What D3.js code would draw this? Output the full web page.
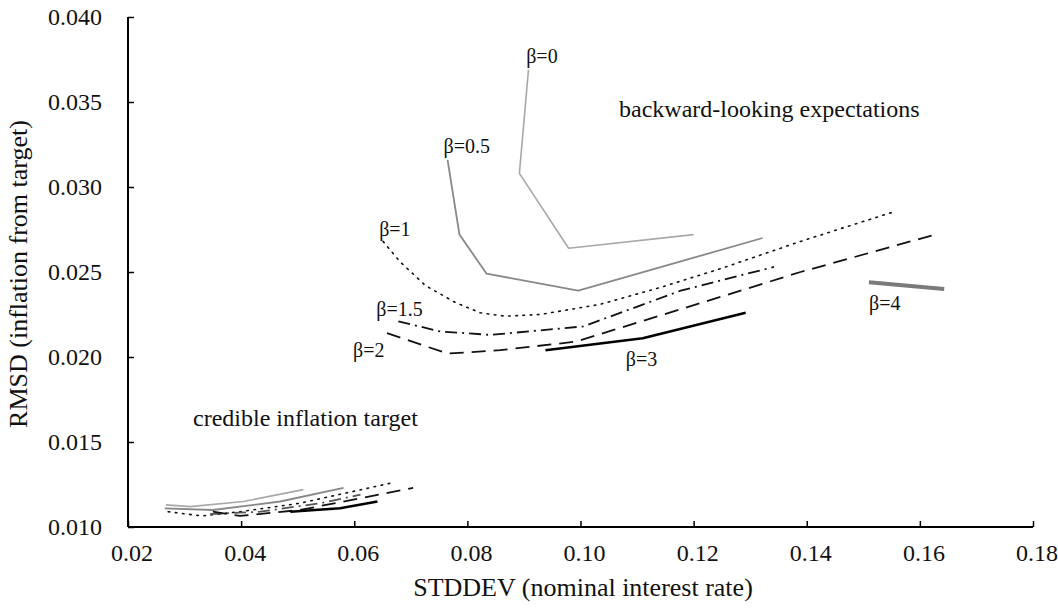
<!DOCTYPE html>
<html>
<head>
<meta charset="utf-8">
<script src="https://cdn.jsdelivr.net/npm/d3@7/dist/d3.min.js"></script>
<style>
  html, body { margin: 0; padding: 0; background: #fff; }
  svg { display: block; }
  text { font-family: "Liberation Serif", "Times New Roman", serif; fill: #111; }
</style>
</head>
<body>
<svg id="chart" width="1058" height="609"></svg>
<script>
// Axis ticks
const xTicks = [0.02, 0.04, 0.06, 0.08, 0.10, 0.12, 0.14, 0.16, 0.18];
const yTicks = [0.010, 0.015, 0.020, 0.025, 0.030, 0.035, 0.040];

// Policy frontiers [STDDEV interest rate, RMSD inflation] — backward-looking expectations
const backBeta0   = [[0.0908, 0.0369], [0.0892, 0.0308], [0.0979, 0.0264], [0.1200, 0.0272]];
const backBeta05  = [[0.0765, 0.0316], [0.0786, 0.0272], [0.0834, 0.0249], [0.0996, 0.0239], [0.1322, 0.0270]];
const backBeta1   = [[0.0651, 0.0268], [0.0681, 0.0256], [0.0726, 0.0242], [0.0779, 0.0232], [0.0823, 0.0226],
                     [0.0867, 0.0224], [0.0929, 0.0225], [0.1035, 0.0231], [0.1142, 0.0241], [0.1248, 0.0252],
                     [0.1389, 0.0268], [0.1550, 0.0285]];
const backBeta15  = [[0.0678, 0.0221], [0.0752, 0.0215], [0.0841, 0.0213], [0.1005, 0.0218], [0.1177, 0.0239], [0.1342, 0.0253]];
const backBeta2   = [[0.0658, 0.0214], [0.0765, 0.0202], [0.0858, 0.0204], [0.0991, 0.0209], [0.1186, 0.0229], [0.1389, 0.0250], [0.1627, 0.0272]];
const backBeta3   = [[0.0938, 0.0204], [0.1110, 0.0211], [0.1292, 0.0226]];
const backBeta4   = [[0.1510, 0.0244], [0.1643, 0.0240]];

// Policy frontiers — credible inflation target
const credBeta0   = [[0.0267, 0.0113], [0.0310, 0.0112], [0.0404, 0.0115], [0.0510, 0.0122]];
const credBeta05  = [[0.0265, 0.0111], [0.0350, 0.0110], [0.0469, 0.0115], [0.0581, 0.0123]];
const credBeta1   = [[0.0271, 0.0109], [0.0331, 0.01065], [0.0398, 0.0109], [0.0504, 0.0114], [0.0667, 0.0126]];
const credBeta15  = [[0.0345, 0.01076], [0.0434, 0.0109], [0.0540, 0.0114], [0.0611, 0.0119]];
const credBeta2   = [[0.0350, 0.0109], [0.0398, 0.01065], [0.0504, 0.0110], [0.0704, 0.0123]];
const credBeta3   = [[0.0487, 0.0109], [0.0575, 0.0111], [0.0641, 0.0115]];

// Curve labels and their anchor points (data units, left/baseline)
const betaLabels = ["β=0", "β=0.5", "β=1", "β=1.5", "β=2", "β=3", "β=4"];
const betaLabelAt = [[0.0904, 0.0373], [0.0758, 0.0320], [0.0644, 0.0271], [0.0639, 0.0224], [0.0598, 0.0200], [0.1080, 0.01947], [0.1510, 0.02276]];

const svg = d3.select("#chart");
const x = d3.scaleLinear().domain([0.02, 0.18]).range([128, 1033]);
const y = d3.scaleLinear().domain([0.010, 0.040]).range([527, 17]);

// Series styling
const styles = [
  { data: backBeta0,  stroke: "#a8a8a8", width: 1.6, dash: null },
  { data: backBeta05, stroke: "#888888", width: 1.8, dash: null },
  { data: backBeta1,  stroke: "#111",    width: 1.6, dash: "1.6 5.6", cap: "round" },
  { data: backBeta15, stroke: "#111",    width: 1.8, dash: "12 5 2 5" },
  { data: backBeta2,  stroke: "#111",    width: 1.8, dash: "14 8" },
  { data: backBeta3,  stroke: "#000",    width: 2.6, dash: null },
  { data: backBeta4,  stroke: "#7a7a7a", width: 4,   dash: null },
  { data: credBeta0,  stroke: "#a8a8a8", width: 1.6, dash: null },
  { data: credBeta05, stroke: "#888888", width: 1.8, dash: null },
  { data: credBeta1,  stroke: "#111",    width: 1.6, dash: "1.6 5.6", cap: "round" },
  { data: credBeta15, stroke: "#555",    width: 1.8, dash: "12 5 2 5" },
  { data: credBeta2,  stroke: "#111",    width: 1.8, dash: "14 8" },
  { data: credBeta3,  stroke: "#000",    width: 2.6, dash: null }
];

const line = d3.line().x(d => x(d[0])).y(d => y(d[1]));

styles.forEach(s => {
  svg.append("path")
    .attr("d", line(s.data))
    .attr("fill", "none")
    .attr("stroke", s.stroke)
    .attr("stroke-width", s.width)
    .attr("stroke-linejoin", "round")
    .attr("stroke-linecap", s.cap || "butt")
    .attr("stroke-dasharray", s.dash);
});

// Axes with inward ticks
const xAxis = d3.axisTop(x).tickValues(xTicks).tickSize(6).tickFormat(d3.format(".2f"));
const yAxis = d3.axisRight(y).tickValues(yTicks).tickSize(6).tickFormat(d3.format(".3f"));

const gx = svg.append("g").attr("transform", `translate(0,${y(0.010)})`).call(xAxis);
gx.selectAll("text").remove();
gx.select(".domain").attr("stroke", "#000").attr("stroke-width", 2).attr("d", `M${x(0.02)},0H${x(0.18)}`);
gx.selectAll(".tick line").attr("stroke", "#000").attr("stroke-width", 1.5);

const gy = svg.append("g").attr("transform", `translate(${x(0.02)},0)`).call(yAxis);
gy.selectAll("text").remove();
gy.select(".domain").attr("stroke", "#000").attr("stroke-width", 2).attr("d", `M0,${y(0.040)}V${y(0.010)}`);
gy.selectAll(".tick line").attr("stroke", "#000").attr("stroke-width", 1.5);

// Tick labels
svg.append("g").selectAll("text").data(xTicks).join("text")
  .attr("x", d => x(d) + 4)
  .attr("y", 561)
  .attr("text-anchor", "middle")
  .attr("font-size", 24)
  .text(d3.format(".2f"));

svg.append("g").selectAll("text").data(yTicks).join("text")
  .attr("x", 102)
  .attr("y", d => y(d) + 8)
  .attr("text-anchor", "end")
  .attr("font-size", 24)
  .text(d3.format(".3f"));

// Axis titles
svg.append("text")
  .attr("x", 583).attr("y", 596)
  .attr("text-anchor", "middle")
  .attr("font-size", 26)
  .text("STDDEV (nominal interest rate)");

svg.append("text")
  .attr("transform", `translate(27,${274}) rotate(-90)`)
  .attr("text-anchor", "middle")
  .attr("font-size", 26)
  .text("RMSD (inflation from target)");

// Curve labels
svg.append("g").selectAll("text").data(betaLabels).join("text")
  .attr("x", (d, i) => x(betaLabelAt[i][0]))
  .attr("y", (d, i) => y(betaLabelAt[i][1]))
  .attr("font-size", 20)
  .text(d => d);

// Regime annotations
svg.append("text").attr("x", 619).attr("y", 117).attr("font-size", 24).text("backward-looking expectations");
svg.append("text").attr("x", 193).attr("y", 426).attr("font-size", 24).text("credible inflation target");
</script>
</body>
</html>
